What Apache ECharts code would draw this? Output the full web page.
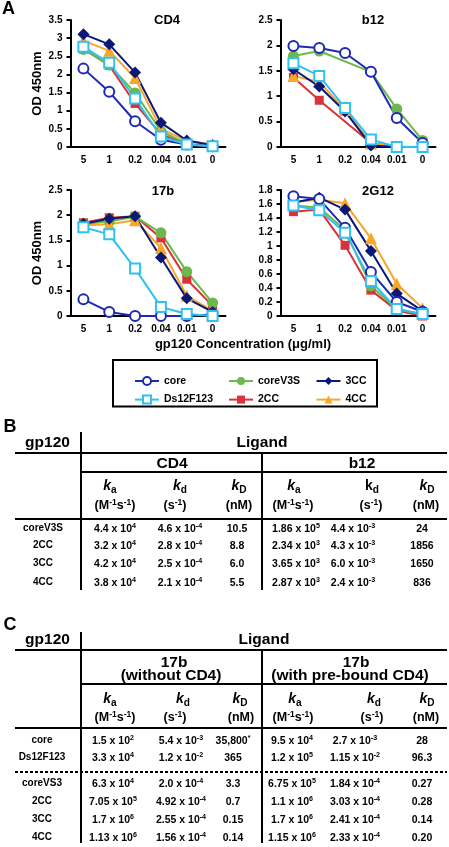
<!DOCTYPE html>
<html><head><meta charset="utf-8">
<script src="https://cdn.jsdelivr.net/npm/echarts@6/dist/echarts.min.js"></script>
<style>
html,body{margin:0;padding:0;background:#fff;}
#wrap{position:relative;width:449px;height:847px;overflow:hidden;font-family:'Liberation Sans',Arial,sans-serif;font-weight:bold;color:#000;}
#chart{position:absolute;left:0;top:0;width:449px;height:847px;}
#tables{position:absolute;left:0;top:0;width:449px;height:847px;pointer-events:none;}
.t{position:absolute;white-space:nowrap;line-height:1;transform:translate(-50%,-50%);}
.t sup{font-size:0.68em;vertical-align:0.5em;line-height:0;}
.t sub{font-size:0.72em;vertical-align:-0.25em;line-height:0;}
.ln{position:absolute;background:#000;}
</style>
</head><body>
<div id="wrap"><div id="chart"></div><div id="tables"></div></div>
<script>
// ---------- data ----------
const concLabels = ['5', '1', '0.2', '0.04', '0.01', '0'];
const seriesNames = ['core', 'Ds12F123', 'coreV3S', '2CC', '3CC', '4CC'];
// values ordered as seriesNames
const cd4Values = [
  [2.16, 1.52, 0.71, 0.20, 0.07, 0.02],
  [2.76, 2.32, 1.34, 0.29, 0.07, 0.02],
  [2.69, 2.26, 1.49, 0.44, 0.09, 0.02],
  [2.70, 2.25, 1.20, 0.35, 0.07, 0.02],
  [3.11, 2.83, 2.05, 0.67, 0.18, 0.05],
  [2.93, 2.65, 1.90, 0.50, 0.17, 0.07]
];
const b12Values = [
  [1.99, 1.95, 1.85, 1.48, 0.57, 0.08],
  [1.65, 1.40, 0.77, 0.15, 0.00, 0.00],
  [1.79, 1.89, null, 1.48, 0.75, 0.13],
  [1.37, 0.92, null, 0.08, 0.00, 0.00],
  [1.53, 1.19, 0.70, 0.03, 0.00, 0.00],
  [1.40, 1.28, 0.73, 0.07, 0.01, 0.00]
];
const v17bValues = [
  [0.33, 0.08, 0.00, 0.00, 0.00, 0.03],
  [1.76, 1.62, 0.94, 0.18, 0.04, 0.00],
  [1.82, 1.88, 1.97, 1.65, 0.88, 0.26],
  [1.85, 1.95, 1.98, 1.55, 0.73, 0.20],
  [1.83, 1.93, 1.98, 1.16, 0.35, 0.08],
  [1.80, 1.82, 1.90, 1.35, 0.40, 0.10]
];
const g2g12Values = [
  [1.71, 1.67, 1.26, 0.63, 0.20, 0.06],
  [1.58, 1.51, 1.19, 0.50, 0.10, 0.03],
  [1.58, 1.55, 1.23, 0.43, 0.10, 0.02],
  [1.49, 1.52, 1.01, 0.37, 0.08, 0.00],
  [1.62, 1.69, 1.52, 0.93, 0.32, 0.07],
  [1.63, 1.66, 1.61, 1.11, 0.46, 0.11]
];
const panelTitles = ['CD4', 'b12', '17b', '2G12'];
const yMaxes = [3.5, 2.5, 2.5, 1.8];
const yIntervals = [0.5, 0.5, 0.5, 0.2];

const tableBRowLabels = ['coreV3S', '2CC', '3CC', '4CC'];
const tableBCD4 = [
  ['4.4 x 10^4', '4.6 x 10^-4', '10.5'],
  ['3.2 x 10^4', '2.8 x 10^-4', '8.8'],
  ['4.2 x 10^4', '2.5 x 10^-4', '6.0'],
  ['3.8 x 10^4', '2.1 x 10^-4', '5.5']
];
const tableBb12 = [
  ['1.86 x 10^5', '4.4 x 10^-3', '24'],
  ['2.34 x 10^3', '4.3 x 10^-3', '1856'],
  ['3.65 x 10^3', '6.0 x 10^-3', '1650'],
  ['2.87 x 10^3', '2.4 x 10^-3', '836']
];
const tableCRowLabels = ['core', 'Ds12F123', 'coreVS3', '2CC', '3CC', '4CC'];
const tableCWithout = [
  ['1.5 x 10^2', '5.4 x 10^-3', '35,800^*'],
  ['3.3 x 10^4', '1.2 x 10^-2', '365'],
  ['6.3 x 10^4', '2.0 x 10^-4', '3.3'],
  ['7.05 x 10^5', '4.92 x 10^-4', '0.7'],
  ['1.7 x 10^6', '2.55 x 10^-4', '0.15'],
  ['1.13 x 10^6', '1.56 x 10^-4', '0.14']
];
const tableCWith = [
  ['9.5 x 10^4', '2.7 x 10^-3', '28'],
  ['1.2 x 10^5', '1.15 x 10^-2', '96.3'],
  ['6.75 x 10^5', '1.84 x 10^-4', '0.27'],
  ['1.1 x 10^6', '3.03 x 10^-4', '0.28'],
  ['1.7 x 10^6', '2.41 x 10^-4', '0.14'],
  ['1.15 x 10^6', '2.33 x 10^-4', '0.20']
];
const kHeaders = ['k_a', 'k_d', 'k_D'];
const unitHeaders = ['(M^-1s^-1)', '(s^-1)', '(nM)'];

// ---------- chart ----------
const FONT = "'Liberation Sans', Arial, sans-serif";
const styleMap = {
  'core':     {color: '#1e2ab4', symbol: 'emptyCircle', size: 10},
  'Ds12F123': {color: '#2fc1ef', symbol: 'emptyRect', size: 10},
  'coreV3S':  {color: '#6bb84c', symbol: 'circle', size: 11},
  '2CC':      {color: '#d8333b', symbol: 'rect', size: 9},
  '3CC':      {color: '#0c1878', symbol: 'diamond', size: 12},
  '4CC':      {color: '#f6a72a', symbol: 'triangle', size: 12}
};
const drawOrder = ['2CC', 'coreV3S', '4CC', '3CC', 'core', 'Ds12F123'];
const panelValues = [cd4Values, b12Values, v17bValues, g2g12Values];
const gridPos = [
  {left: 70.5, top: 20, width: 155, height: 127},
  {left: 280.5, top: 20, width: 155, height: 127},
  {left: 70.5, top: 190, width: 155, height: 126},
  {left: 280.5, top: 190, width: 155, height: 126}
];
const titlePos = [[167, 20], [373, 20], [163, 191], [378, 191]];

const grids = [], xAxes = [], yAxes = [], series = [], graphics = [];
gridPos.forEach((g, i) => {
  grids.push(Object.assign({containLabel: false}, g));
  xAxes.push({
    type: 'category', gridIndex: i, data: concLabels, boundaryGap: true,
    axisLine: {lineStyle: {color: '#000', width: 2}},
    axisTick: {alignWithLabel: true, length: 4, lineStyle: {color: '#000', width: 2}},
    axisLabel: {interval: 0, color: '#000', fontWeight: 'bold', fontSize: 10, fontFamily: FONT, margin: 8}
  });
  yAxes.push({
    type: 'value', gridIndex: i, min: 0, max: yMaxes[i], interval: yIntervals[i],
    name: (i % 2 === 0) ? 'OD 450nm' : '', nameLocation: 'middle', nameGap: 27, nameRotate: 90,
    nameTextStyle: {color: '#000', fontWeight: 'bold', fontSize: 13, fontFamily: FONT},
    axisLine: {show: true, lineStyle: {color: '#000', width: 2}},
    axisTick: {show: true, length: 4, lineStyle: {color: '#000', width: 2}},
    splitLine: {show: false},
    axisLabel: {color: '#000', fontWeight: 'bold', fontSize: 10, fontFamily: FONT, margin: 8}
  });
  drawOrder.forEach(name => {
    const st = styleMap[name];
    const idx = seriesNames.indexOf(name);
    series.push({
      type: 'line', name: name, xAxisIndex: i, yAxisIndex: i,
      data: panelValues[i][idx], connectNulls: true, clip: false,
      symbol: st.symbol, symbolSize: st.size, showAllSymbol: true,
      color: st.color,
      lineStyle: {color: st.color, width: 2},
      itemStyle: {color: st.color, borderWidth: (st.symbol.indexOf('empty') === 0) ? 2 : 0},
      animation: false
    });
  });
  graphics.push({type: 'text', x: titlePos[i][0], y: titlePos[i][1],
    style: {text: panelTitles[i], fill: '#000', font: 'bold 13px ' + FONT, textAlign: 'center', textVerticalAlign: 'middle'}});
});
graphics.push({type: 'text', x: 2, y: 9, style: {text: 'A', fill: '#000', font: 'bold 18px ' + FONT, textAlign: 'left', textVerticalAlign: 'middle'}});
graphics.push({type: 'text', x: 243, y: 344, style: {text: 'gp120 Concentration (\u03bcg/ml)', fill: '#000', font: 'bold 13px ' + FONT, textAlign: 'center', textVerticalAlign: 'middle'}});
graphics.push({type: 'rect', shape: {x: 113, y: 360, width: 264, height: 46.5}, style: {fill: 'none', stroke: '#000', lineWidth: 2}});

const legendCols = [[seriesNames[0], seriesNames[1]], [seriesNames[2], seriesNames[3]], [seriesNames[4], seriesNames[5]]];
const legendLeft = [129, 223, 310.5];
const legends = legendCols.map((d, i) => ({
  data: d, left: legendLeft[i], top: 370.5, orient: 'vertical', itemWidth: 24, itemHeight: 10, itemGap: 7.6,
  textStyle: {color: '#000', fontWeight: 'bold', fontSize: 10.5, fontFamily: FONT}, selectedMode: false
}));

const chart = echarts.init(document.getElementById('chart'), null, {renderer: 'canvas'});
chart.setOption({
  animation: false, textStyle: {fontFamily: FONT},
  grid: grids, xAxis: xAxes, yAxis: yAxes, series: series, legend: legends, graphic: graphics
});

// ---------- tables ----------
const host = document.getElementById('tables');
function fmt(s) {
  return s.replace(/\^(-?[0-9*]+)/g, '<sup>$1</sup>');
}
function kfmt(s) {
  const p = s.split('_');
  return '<i>' + p[0] + '</i><sub>' + p[1] + '</sub>';
}
function txt(x, y, html, size, extra) {
  const d = document.createElement('div');
  d.className = 't';
  d.style.left = x + 'px'; d.style.top = y + 'px'; d.style.fontSize = size + 'px';
  if (extra) d.style.cssText += extra;
  d.innerHTML = html;
  host.appendChild(d);
}
function hline(x1, x2, y, w) {
  const d = document.createElement('div'); d.className = 'ln';
  d.style.left = x1 + 'px'; d.style.top = (y - w / 2) + 'px'; d.style.width = (x2 - x1) + 'px'; d.style.height = w + 'px';
  host.appendChild(d);
}
function vline(x, y1, y2, w) {
  const d = document.createElement('div'); d.className = 'ln';
  d.style.left = (x - w / 2) + 'px'; d.style.top = y1 + 'px'; d.style.width = w + 'px'; d.style.height = (y2 - y1) + 'px';
  host.appendChild(d);
}
function dotted(x1, x2, y) {
  const d = document.createElement('div');
  d.style.cssText = 'position:absolute;left:' + x1 + 'px;top:' + (y - 1) + 'px;width:' + (x2 - x1) + 'px;height:2px;' +
    'background:repeating-linear-gradient(to right,#000 0 3px,transparent 3px 5px);';
  host.appendChild(d);
}

// Panel B
txt(10, 426, 'B', 18);
txt(47.5, 442, 'gp120', 15.5);
txt(262, 442, 'Ligand', 15.5);
vline(81, 432, 590, 2);
hline(15, 447, 452.5, 2);
txt(172, 462.5, 'CD4', 15.5);
txt(362, 462.5, 'b12', 15.5);
vline(262, 452.5, 590, 2);
hline(81, 447, 472, 2);
const bHeadX = [110, 180, 239, 294, 372, 427];
const bUnitX = [115, 175, 239, 293, 371, 426];
const bValX = [115, 180, 237, 296, 353, 422];
for (let c = 0; c < 6; c++) {
  const kh = kHeaders[c % 3];
  const html = (c === 4) ? 'k<sub>d</sub>' : kfmt(kh);
  txt(bHeadX[c], 485, html, 14);
  txt(bUnitX[c], 505, fmt(unitHeaders[c % 3]), 12.5);
}
hline(15, 447, 519, 2);
const bRowY = [527.5, 545, 563.3, 581.7];
tableBRowLabels.forEach((lab, r) => {
  txt(43, bRowY[r], lab, 10);
  tableBCD4[r].forEach((v, c) => txt(bValX[c], bRowY[r], fmt(v), 10.5));
  tableBb12[r].forEach((v, c) => txt(bValX[c + 3], bRowY[r], fmt(v), 10.5));
});

// Panel C
txt(10, 624, 'C', 18);
txt(47.5, 639, 'gp120', 15.5);
txt(264, 639, 'Ligand', 15.5);
vline(81, 632, 843, 2);
hline(15, 447, 650, 2);
txt(174, 661.5, '17b', 15.5);
txt(171, 675, '(without CD4)', 15.5);
txt(356, 661.5, '17b', 15.5);
txt(350, 675, '(with pre-bound CD4)', 15.5);
vline(262, 650, 843, 2);
hline(81, 447, 684, 2);
const cHeadX = [110, 183, 240, 295, 374, 427];
const cUnitX = [115, 175, 241, 293, 372, 426];
const cValX = [113, 181, 233, 292, 355, 422];
for (let c = 0; c < 6; c++) {
  txt(cHeadX[c], 698.3, kfmt(kHeaders[c % 3]), 14);
  txt(cUnitX[c], 717.3, fmt(unitHeaders[c % 3]), 12.5);
}
hline(15, 447, 728.3, 2);
const cRowY = [740, 756.7, 783.3, 800.7, 819, 836.7];
dotted(15, 447, 771.7);
tableCRowLabels.forEach((lab, r) => {
  txt(42, cRowY[r], lab, 10);
  tableCWithout[r].forEach((v, c) => txt(cValX[c], cRowY[r], fmt(v), 10.5));
  tableCWith[r].forEach((v, c) => txt(cValX[c + 3], cRowY[r], fmt(v), 10.5));
});
</script>
</body></html>
